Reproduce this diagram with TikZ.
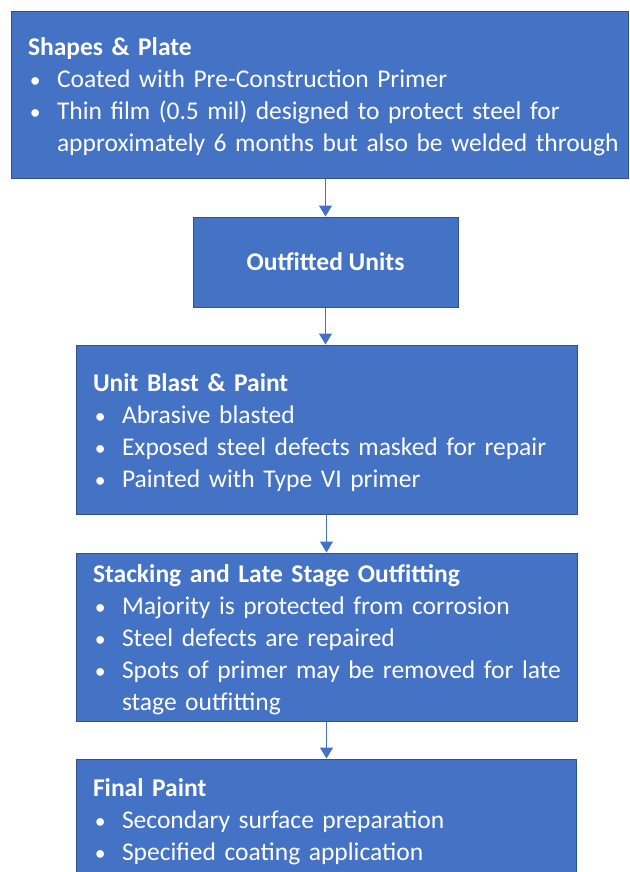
\documentclass[tikz,border=0pt]{standalone}
\usepackage{fontspec}
\setmainfont{Carlito}
\usepackage{xcolor}
\usepackage{tikz}
\usetikzlibrary{arrows.meta}

\definecolor{stagefill}{HTML}{4472C4}
\definecolor{stageline}{HTML}{2F528F}

\newcommand{\stagebullet}{\hspace*{1.5pt}\makebox[20.25pt][l]{\scalebox{0.85}{\textbullet}}}
\newcommand{\stagehang}{\hspace*{21.75pt}}
\newcommand{\stagetop}{\rule{0pt}{17.5pt}}

\begin{document}
\begin{tikzpicture}[
x=0.75pt,y=-0.75pt,
>={Triangle[width=9.75pt,length=8.25pt]},
every node/.style={font=\fontsize{19.15pt}{24pt}\selectfont},
stage/.style={rectangle,draw=stageline,line width=0.75pt,fill=stagefill,
  text=white,align=left,inner xsep=12.75pt,inner ysep=0pt},
flow/.style={->,draw=stagefill,line width=0.75pt}
]
\clip (0,0) rectangle (630,872);

% Stages
\node[stage,minimum width=462.75pt,minimum height=125.25pt,text width=437.25pt] (plate) at (319.5,94.5) {%
\stagetop\textbf{Shapes \& Plate}\\
\stagebullet Coated with Pre-Construction Primer\\
\stagebullet\mbox{Thin film (0.5 mil) designed to protect steel for}\\
\stagehang\mbox{approximately 6 months but also be welded through}};

\node[stage,minimum width=198.75pt,minimum height=67.5pt,align=center] (units) at (325.5,262) {\textbf{Outfitted Units}};

\node[stage,minimum width=375.75pt,minimum height=126.75pt,text width=350.25pt] (blast) at (326.5,429.5) {%
\stagetop\textbf{Unit Blast \& Paint}\\
\stagebullet Abrasive blasted\\
\stagebullet Exposed steel defects masked for repair\\
\stagebullet Painted with Type VI primer};

\node[stage,minimum width=375.75pt,minimum height=126pt,text width=350.25pt] (stack) at (326.5,637) {%
\stagetop\textbf{Stacking and Late Stage Outfitting}\\
\stagebullet Majority is protected from corrosion\\
\stagebullet Steel defects are repaired\\
\stagebullet\mbox{Spots of primer may be removed for late}\\
\stagehang stage outfitting};

% last stage runs past the bottom edge
\node[stage,minimum width=375pt,minimum height=110.25pt,text width=349.5pt] (final) at (326,832.5) {%
\stagetop\textbf{Final Paint}\\
\stagebullet Secondary surface preparation\\
\stagebullet Specified coating application\\
\mbox{}};

% Flow
\draw[flow] (units.north |- plate.south) -- (units.north);
\draw[flow] (units.south) -- (blast.north -| units.south);
\draw[flow] (blast.south) -- (stack.north);
\draw[flow] (stack.south) -- (final.north -| stack.south);

\end{tikzpicture}
\end{document}
